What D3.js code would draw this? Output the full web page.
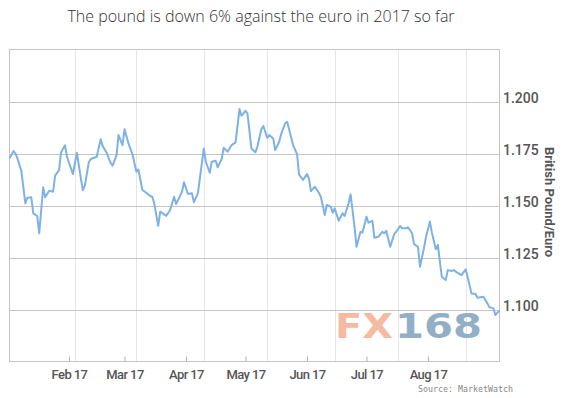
<!DOCTYPE html>
<html>
<head>
<meta charset="utf-8">
<script src="https://d3js.org/d3.v7.min.js"></script>
<style>
  body { margin: 0; background: #fff; }
  svg { display: block; }
</style>
</head>
<body>
<script>
// GBP/EUR, 2017
var dates = [
  "2017-01-02","2017-01-04","2017-01-05","2017-01-06","2017-01-08","2017-01-10","2017-01-11","2017-01-13","2017-01-14","2017-01-16",
  "2017-01-17","2017-01-19","2017-01-20","2017-01-22","2017-01-24","2017-01-25","2017-01-27","2017-01-28","2017-01-30","2017-01-31",
  "2017-02-02","2017-02-03","2017-02-05","2017-02-07","2017-02-08","2017-02-09","2017-02-11","2017-02-12","2017-02-15","2017-02-17",
  "2017-02-18","2017-02-20","2017-02-22","2017-02-23","2017-02-25","2017-02-26","2017-02-28","2017-03-01","2017-03-03","2017-03-05",
  "2017-03-07","2017-03-08","2017-03-10","2017-03-12","2017-03-14","2017-03-15","2017-03-16","2017-03-18","2017-03-19","2017-03-22",
  "2017-03-24","2017-03-26","2017-03-27","2017-03-29","2017-03-30","2017-03-31","2017-04-02","2017-04-04","2017-04-05","2017-04-07",
  "2017-04-10","2017-04-11","2017-04-13","2017-04-14","2017-04-16","2017-04-17","2017-04-19","2017-04-20","2017-04-22","2017-04-24",
  "2017-04-26","2017-04-28","2017-04-29","2017-05-01","2017-05-02","2017-05-04","2017-05-06","2017-05-07","2017-05-09","2017-05-10",
  "2017-05-12","2017-05-13","2017-05-15","2017-05-16","2017-05-18","2017-05-19","2017-05-21","2017-05-22","2017-05-23","2017-05-25",
  "2017-05-27","2017-05-28","2017-05-30","2017-06-01","2017-06-02","2017-06-03","2017-06-05","2017-06-07","2017-06-08","2017-06-10",
  "2017-06-11","2017-06-13","2017-06-14","2017-06-15","2017-06-17","2017-06-19","2017-06-20","2017-06-22","2017-06-23","2017-06-25",
  "2017-06-26","2017-06-28","2017-06-29","2017-07-01","2017-07-02","2017-07-04","2017-07-05","2017-07-07","2017-07-09","2017-07-10",
  "2017-07-11","2017-07-13","2017-07-15","2017-07-16","2017-07-18","2017-07-19","2017-07-21","2017-07-22","2017-07-24","2017-07-25",
  "2017-07-27","2017-07-28","2017-07-30","2017-07-31","2017-08-02","2017-08-03","2017-08-05","2017-08-06","2017-08-08","2017-08-10",
  "2017-08-11","2017-08-13","2017-08-14","2017-08-16","2017-08-18","2017-08-20","2017-08-21","2017-08-23","2017-08-25","2017-08-26",
  "2017-08-29","2017-08-31","2017-09-01","2017-09-03","2017-09-04","2017-09-06"
];

var values = [
  1.1729,1.1764,1.1753,1.1729,1.1668,1.1513,1.1540,1.1542,1.1465,1.1452,
  1.1369,1.1590,1.1542,1.1574,1.1569,1.1646,1.1673,1.1758,1.1792,1.1737,
  1.1681,1.1654,1.1756,1.1633,1.1577,1.1598,1.1710,1.1726,1.1737,1.1821,
  1.1788,1.1756,1.1708,1.1694,1.1745,1.1841,1.1793,1.1869,1.1801,1.1749,
  1.1665,1.1676,1.1577,1.1564,1.1548,1.1545,1.1513,1.1405,1.1473,1.1453,
  1.1481,1.1545,1.1510,1.1548,1.1569,1.1614,1.1558,1.1561,1.1518,1.1561,
  1.1777,1.1713,1.1660,1.1713,1.1718,1.1686,1.1726,1.1780,1.1761,1.1793,
  1.1806,1.1966,1.1934,1.1958,1.1946,1.1777,1.1758,1.1785,1.1869,1.1885,
  1.1828,1.1841,1.1825,1.1769,1.1809,1.1846,1.1898,1.1905,1.1869,1.1793,
  1.1750,1.1652,1.1625,1.1654,1.1633,1.1572,1.1593,1.1564,1.1545,1.1457,
  1.1505,1.1497,1.1468,1.1489,1.1429,1.1465,1.1452,1.1513,1.1556,1.1400,
  1.1304,1.1376,1.1372,1.1449,1.1420,1.1429,1.1348,1.1352,1.1376,1.1369,
  1.1381,1.1304,1.1365,1.1376,1.1404,1.1393,1.1393,1.1398,1.1369,1.1317,
  1.1304,1.1208,1.1297,1.1350,1.1425,1.1372,1.1292,1.1313,1.1160,1.1144,
  1.1192,1.1188,1.1192,1.1179,1.1168,1.1196,1.1160,1.1080,1.1077,1.1059,
  1.1064,1.1032,1.1013,1.1008,1.0976,1.0997
];

var monthTicks = ["2017-02-01","2017-03-01","2017-04-01","2017-05-01","2017-06-01","2017-07-01","2017-08-01"];
var monthLabels = ["Feb 17","Mar 17","Apr 17","May 17","Jun 17","Jul 17","Aug 17"];
var gridDates = ["2017-02-04","2017-03-07","2017-04-10","2017-05-12","2017-06-15","2017-07-17","2017-08-20"];
var yTicks = [1.100, 1.125, 1.150, 1.175, 1.200];

var title = "The pound is down 6% against the euro in 2017 so far";
var yTitle = "British Pound/Euro";
var source = "Source: MarketWatch";

var parse = d3.timeParse("%Y-%m-%d");

var drawChart = function(){
  var w = 569;
  var h = 398;
  var box = {left: 9, right: 499, top: 49, bottom: 361};

  var svg = d3.select("body")
              .append("svg")
              .attr("width", w)
              .attr("height", h);

  var x = d3.scaleTime()
            .domain([parse("2017-01-01"), parse("2017-09-06")])
            .range([7.5, 499.3]);
  var y = d3.scaleLinear()
            .domain([1.0755, 1.2255])
            .range([box.bottom, box.top]);

  var data = dates.map(function(d, i){
    return {date: parse(d), value: values[i]};
  });

  // vertical grid
  svg.selectAll("line.vgrid")
     .data(gridDates)
     .enter()
     .append("line")
     .attr("class", "vgrid")
     .attr("x1", function(d){ return Math.round(x(parse(d))) + 0.5; })
     .attr("x2", function(d){ return Math.round(x(parse(d))) + 0.5; })
     .attr("y1", box.top)
     .attr("y2", box.bottom)
     .attr("stroke", "#e6e6e6")
     .attr("stroke-width", 1);

  // horizontal grid
  svg.selectAll("line.hgrid")
     .data(yTicks)
     .enter()
     .append("line")
     .attr("class", "hgrid")
     .attr("x1", box.left)
     .attr("x2", box.right)
     .attr("y1", function(d){ return Math.round(y(d)) + 0.5; })
     .attr("y2", function(d){ return Math.round(y(d)) + 0.5; })
     .attr("stroke", "#c4c4c4")
     .attr("stroke-width", 1);

  // frame
  svg.append("rect")
     .attr("x", box.left + 0.5)
     .attr("y", box.top + 0.5)
     .attr("width", box.right - box.left)
     .attr("height", box.bottom - box.top)
     .attr("fill", "none")
     .attr("stroke", "#c4c4c4");

  // bottom axis
  var xAxis = d3.axisBottom(x)
                .tickValues(monthTicks.map(parse))
                .tickFormat(function(d, i){ return monthLabels[i]; })
                .tickSize(-5)
                .tickPadding(8);
  var gx = svg.append("g")
              .attr("transform", "translate(0," + (box.bottom + 0.5) + ")")
              .call(xAxis);
  gx.select(".domain").remove();
  gx.selectAll(".tick line").attr("stroke", "#b0b0b0");
  gx.selectAll(".tick text")
    .attr("fill", "#555")
    .style("font-family", "Roboto, sans-serif")
    .style("font-size", "13px")
    .style("font-weight", "500")
    .style("letter-spacing", "-0.6px");

  // right axis
  var yAxis = d3.axisRight(y)
                .tickValues(yTicks)
                .tickFormat(d3.format(".3f"))
                .tickSize(0)
                .tickPadding(4);
  var gy = svg.append("g")
              .attr("transform", "translate(" + box.right + ",0)")
              .call(yAxis);
  gy.select(".domain").remove();
  gy.selectAll(".tick text")
    .attr("y", -4)
    .attr("fill", "#555")
    .style("font-family", "Roboto, sans-serif")
    .style("font-size", "14px")
    .style("font-weight", "500");

  svg.append("text")
     .attr("transform", "translate(545,202) rotate(90)")
     .attr("text-anchor", "middle")
     .attr("fill", "#555")
     .style("font-family", "Roboto, sans-serif")
     .style("font-size", "13px")
     .style("font-weight", "700")
     .text(yTitle);

  // watermark
  svg.append("text")
     .attr("x", 335)
     .attr("y", 337.5)
     .attr("textLength", 58)
     .attr("lengthAdjust", "spacingAndGlyphs")
     .attr("fill", "#f6b9a1")
     .style("font-family", "DejaVu Sans, sans-serif")
     .style("font-weight", "700")
     .style("font-size", "34px")
     .text("FX");
  svg.append("text")
     .attr("x", 395)
     .attr("y", 337.5)
     .attr("textLength", 87)
     .attr("lengthAdjust", "spacingAndGlyphs")
     .attr("fill", "#92afc6")
     .style("font-family", "DejaVu Sans, sans-serif")
     .style("font-weight", "700")
     .style("font-size", "34px")
     .text("168");

  // line
  var line = d3.line()
               .x(function(d){ return x(d.date); })
               .y(function(d){ return y(d.value); });
  svg.append("path")
     .datum(data)
     .attr("d", line)
     .attr("fill", "none")
     .attr("stroke", "#7eb2e4")
     .attr("stroke-width", 2)
     .attr("stroke-linejoin", "round");

  // title + source
  svg.append("text")
     .attr("x", 261)
     .attr("y", 22)
     .attr("text-anchor", "middle")
     .attr("fill", "#333")
     .style("font-family", "Open Sans, sans-serif")
     .style("font-size", "16px")
     .style("font-weight", "300")
     .text(title);

  svg.append("text")
     .attr("x", 513)
     .attr("y", 392)
     .attr("text-anchor", "end")
     .attr("fill", "#888")
     .attr("textLength", 95)
     .attr("lengthAdjust", "spacingAndGlyphs")
     .style("font-family", "DejaVu Sans Mono, monospace")
     .style("font-size", "9.5px")
     .text(source);
}

drawChart();
</script>
</body>
</html>
